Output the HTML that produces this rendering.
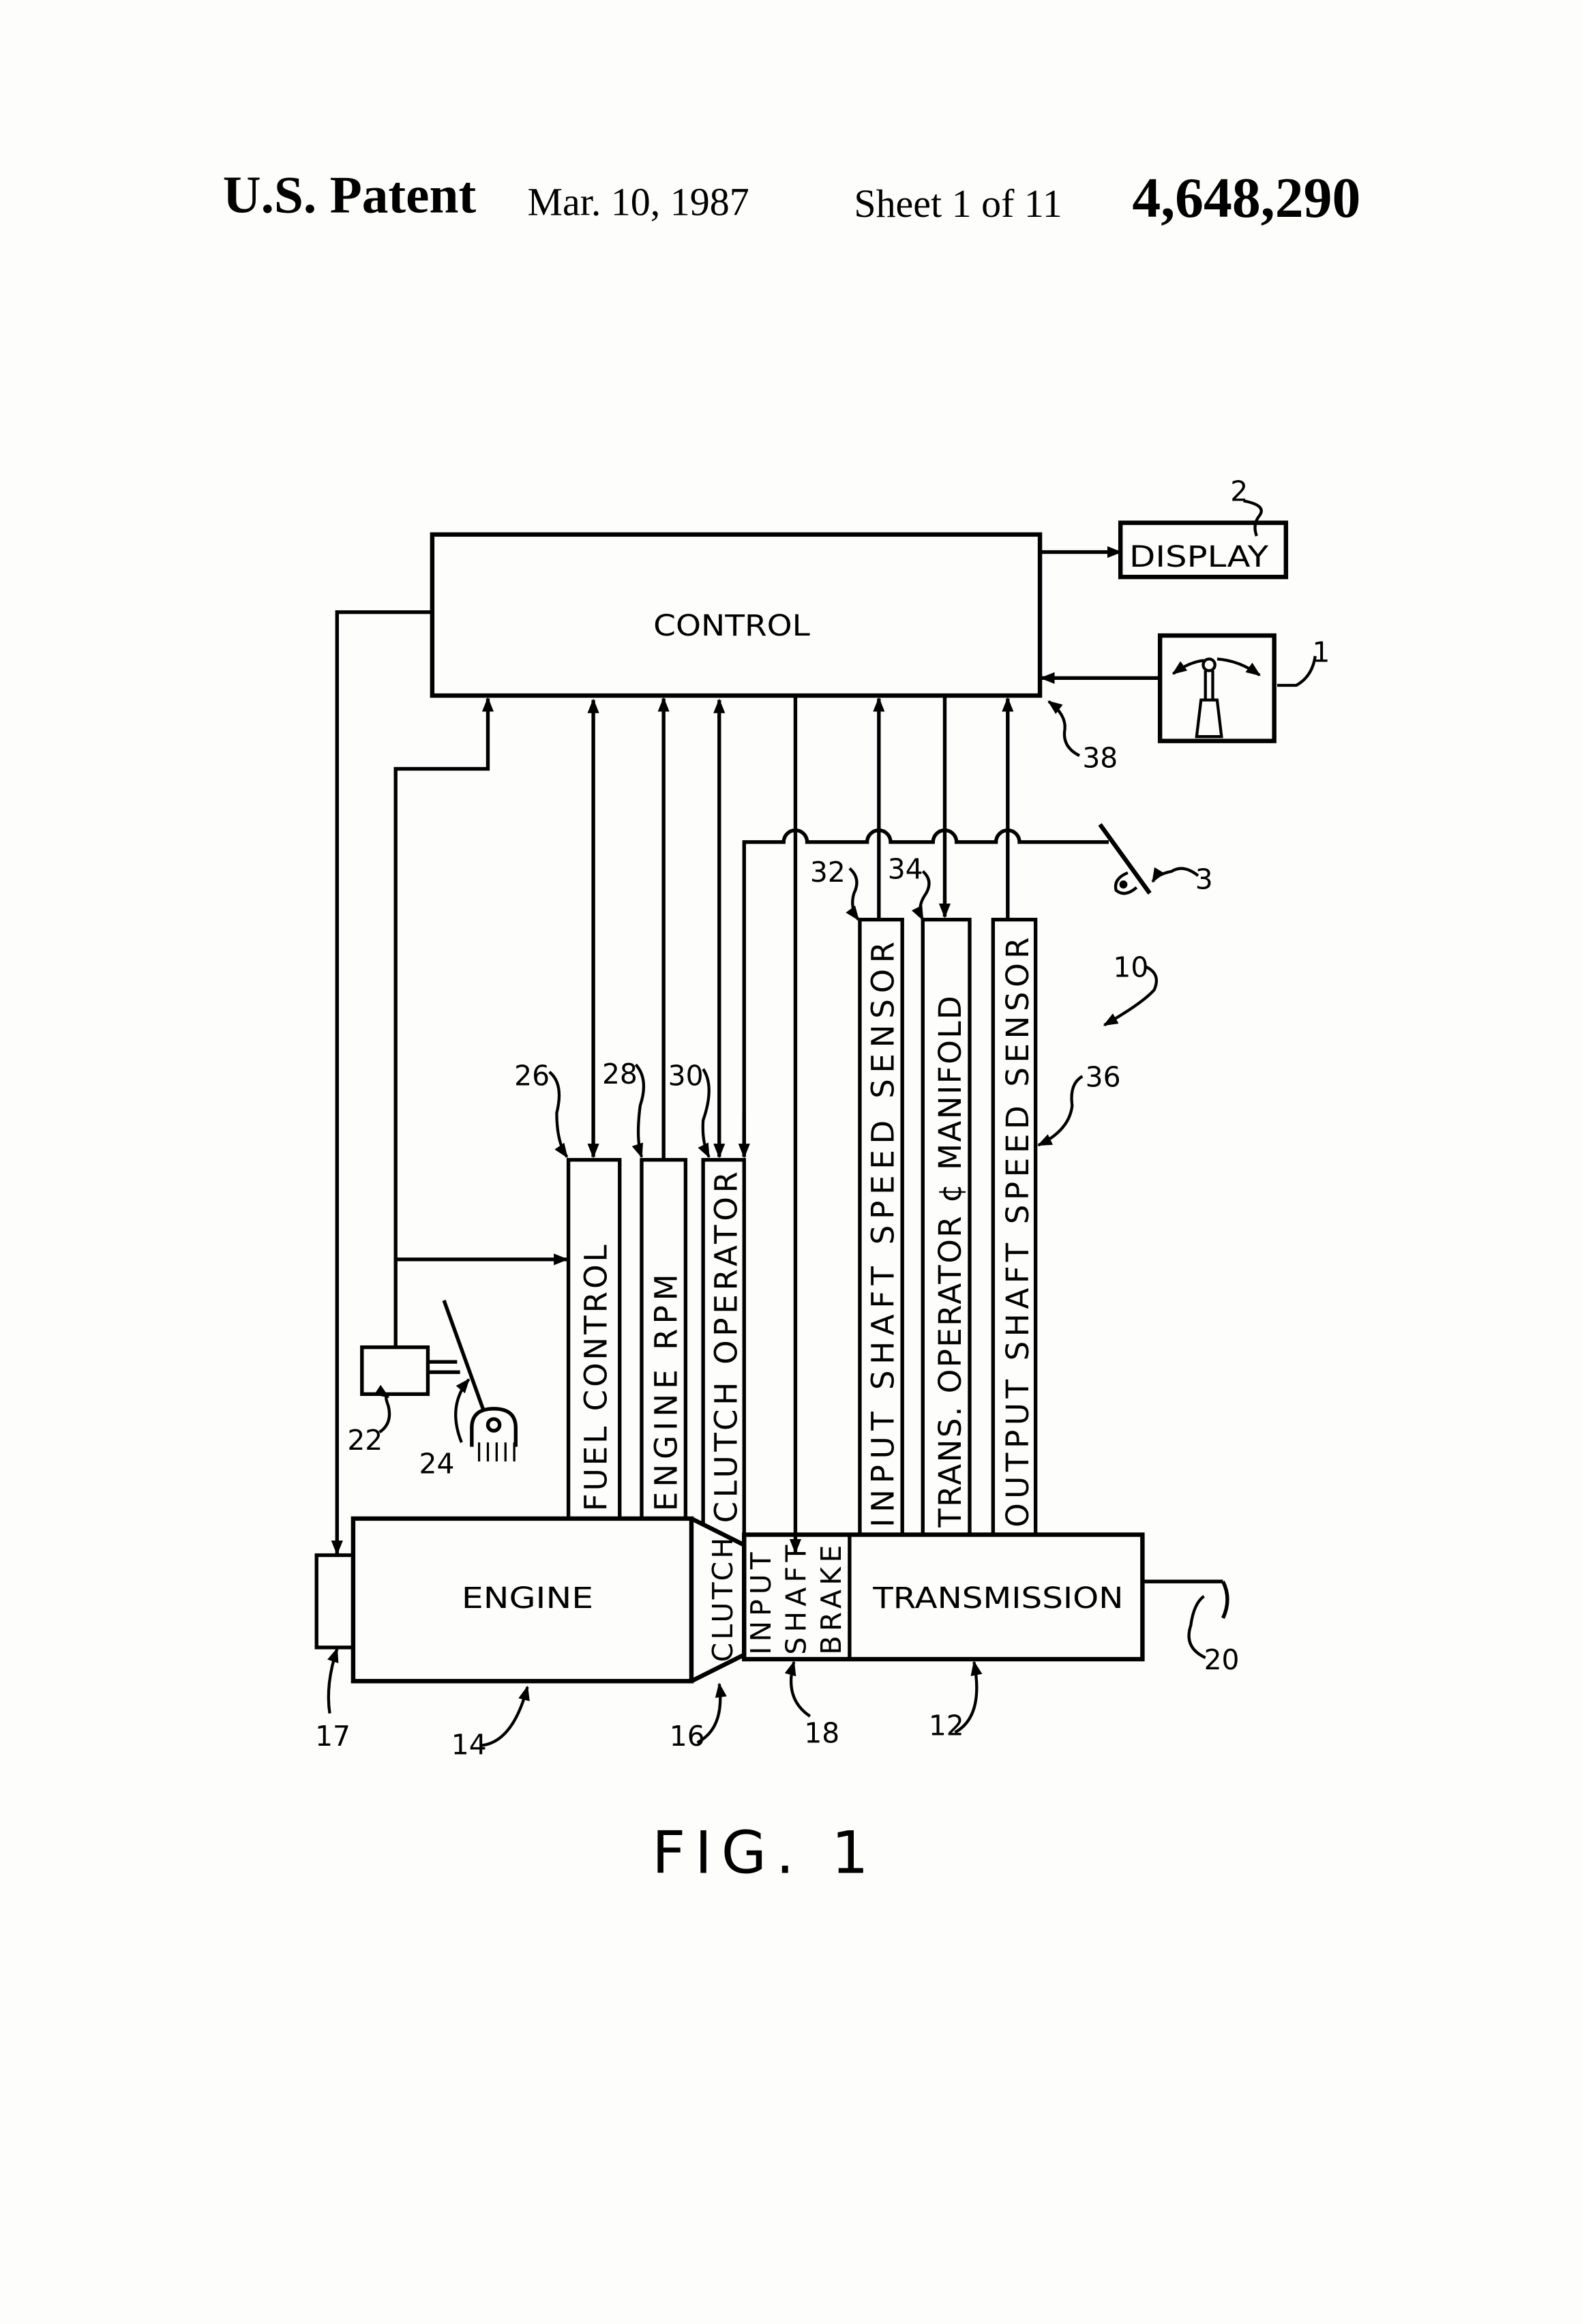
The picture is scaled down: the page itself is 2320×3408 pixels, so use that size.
<!DOCTYPE html>
<html><head><meta charset="utf-8"><style>
html,body{margin:0;padding:0;background:#fdfdfb;}
svg{display:block;}
text{font-family:"DejaVu Sans","Liberation Sans",sans-serif;fill:#000;}
.s{font-family:"Liberation Serif",serif;}
</style></head><body>
<svg width="2320" height="3408" viewBox="0 0 1080 1587" xmlns="http://www.w3.org/2000/svg">
<defs>
<marker id="a" markerWidth="10" markerHeight="10" refX="9" refY="5" orient="auto" markerUnits="userSpaceOnUse"><path d="M0,1 L10,5 L0,9 Z" fill="#000"/></marker>
<marker id="b" markerWidth="10" markerHeight="10" refX="1" refY="5" orient="auto" markerUnits="userSpaceOnUse"><path d="M10,1 L0,5 L10,9 Z" fill="#000"/></marker>
</defs>
<rect width="1080" height="1587" fill="#fdfdfb"/>
<!-- header -->
<text class="s" x="152" y="145" font-size="36" font-weight="bold">U.S. Patent</text>
<text class="s" x="360" y="147" font-size="27">Mar. 10, 1987</text>
<text class="s" x="583" y="148" font-size="27">Sheet 1 of 11</text>
<text class="s" x="773" y="148" font-size="39" font-weight="bold">4,648,290</text>

<g fill="none" stroke="#000" stroke-width="2.5">
<!-- control -->
<rect x="295" y="365" width="415" height="110" stroke-width="3"/>
<rect x="765" y="357" width="113" height="37" stroke-width="3"/>
<line x1="710" y1="377" x2="765" y2="377" marker-end="url(#a)"/>
<rect x="792" y="434" width="78" height="72" stroke-width="3"/>
<line x1="792" y1="463" x2="711" y2="463" marker-end="url(#a)"/>
<!-- shifter icon -->
<path d="M817,503 L820,478 L831,478 L834,503 Z" stroke-width="2"/>
<line x1="823" y1="478" x2="823" y2="458" stroke-width="2"/>
<line x1="828" y1="478" x2="828" y2="458" stroke-width="2"/>
<circle cx="825.5" cy="454" r="4" stroke-width="2"/>
<path d="M801,460 Q812,452 822,451" stroke-width="2" marker-start="url(#b)"/>
<path d="M831,450 Q846,451 860,461" stroke-width="2" marker-end="url(#a)"/>
<!-- left lines -->
<polyline points="295,418 230,418 230,1061" marker-end="url(#a)"/>
<rect x="216" y="1062" width="25" height="63"/>
<polyline points="270,920 270,525 333,525 333,477" marker-end="url(#a)"/>
<line x1="270" y1="860" x2="387" y2="860" marker-end="url(#a)"/>
<!-- verticals -->
<line x1="405" y1="478" x2="405" y2="790" marker-start="url(#b)" marker-end="url(#a)"/>
<line x1="453" y1="792" x2="453" y2="477" marker-end="url(#a)"/>
<line x1="491" y1="478" x2="491" y2="790" marker-start="url(#b)" marker-end="url(#a)"/>
<line x1="543" y1="475" x2="543" y2="1060" marker-end="url(#a)"/>
<line x1="600" y1="628" x2="600" y2="477" marker-end="url(#a)"/>
<line x1="645" y1="475" x2="645" y2="626" marker-end="url(#a)"/>
<line x1="688" y1="628" x2="688" y2="477" marker-end="url(#a)"/>
<!-- line 3 with hops -->
<path d="M508,790 L508,575 L535,575 A8,8 0 0 1 551,575 L592,575 A8,8 0 0 1 608,575 L637,575 A8,8 0 0 1 653,575 L680,575 A8,8 0 0 1 696,575 L757,575" />
<line x1="508" y1="760" x2="508" y2="790" marker-end="url(#a)"/>
<line x1="751" y1="563" x2="785" y2="610" stroke-width="3"/>
<path d="M770,596 Q760,600 762,608 Q768,613 776,606" stroke-width="2"/>
<circle cx="767" cy="604" r="1.5" fill="#000"/>
<!-- boxes -->
<polyline points="388,1037 388,792 423,792 423,1037"/>
<polyline points="438,1037 438,792 468,792 468,1037"/>
<polyline points="480,1042 480,792 508,792 508,1048"/>
<polyline points="587,1048 587,628 616,628 616,1048"/>
<polyline points="630,1048 630,628 662,628 662,1048"/>
<polyline points="678,1048 678,628 707,628 707,1048"/>
<rect x="241" y="1037" width="231" height="111" stroke-width="3"/>
<path d="M472,1037 L508,1055 L508,1130 L472,1148" stroke-width="3"/>
<rect x="508" y="1048" width="272" height="85" stroke-width="3"/>
<line x1="580" y1="1048" x2="580" y2="1133"/>
<polyline points="780,1080 835,1080 M780,1105 835,1105"/>
<path d="M835,1080 Q841,1092 835,1105"/>
<!-- 22, 24 -->
<rect x="247" y="920" width="45" height="32"/>
<line x1="292" y1="930" x2="312" y2="930"/><line x1="292" y1="937" x2="314" y2="937"/>
<line x1="303" y1="888" x2="330" y2="963" stroke-width="2.5"/>
<path d="M322,988 L322,975 Q322,962 337,962 Q352,962 352,975 L352,988"/>
<circle cx="337" cy="973" r="4"/>
<path d="M327,985v13M333,985v13M339,985v13M345,985v13M351,985v13" stroke-width="1.5"/>
<!-- leader lines -->
<path d="M849,342 Q865,345 860,352 Q855,358 858,366" stroke-width="2"/>
<path d="M898,448 Q896,462 885,468 L872,468" stroke-width="2"/>
<path d="M737,516 Q725,510 727,498 Q728,488 716,479" stroke-width="2" marker-end="url(#a)"/>
<path d="M818,598 Q808,590 800,595 Q790,597 787,602" stroke-width="2" marker-end="url(#a)"/>
<path d="M782,660 Q793,665 788,676 Q780,685 754,700" stroke-width="2" marker-end="url(#a)"/>
<path d="M739,735 Q730,740 732,755 Q730,772 709,782" stroke-width="2" marker-end="url(#a)"/>
<path d="M580,593 Q588,600 583,610 Q580,620 586,628" stroke-width="2" marker-end="url(#a)"/>
<path d="M630,595 Q638,602 631,612 Q626,620 630,628" stroke-width="2" marker-end="url(#a)"/>
<path d="M375,732 Q385,740 380,760 Q380,780 387,790" stroke-width="2" marker-end="url(#a)"/>
<path d="M434,727 Q443,737 437,755 Q434,778 438,790" stroke-width="2" marker-end="url(#a)"/>
<path d="M480,730 Q488,742 480,765 Q479,780 484,790" stroke-width="2" marker-end="url(#a)"/>
<path d="M259,978 Q268,972 265,960 Q262,952 265,954" stroke-width="2" marker-end="url(#a)"/>
<path d="M315,985 Q305,960 320,942" stroke-width="2" marker-end="url(#a)"/>
<path d="M225,1170 Q222,1150 230,1126" stroke-width="2" marker-end="url(#a)"/>
<path d="M328,1192 Q350,1190 360,1152" stroke-width="2" marker-end="url(#a)"/>
<path d="M476,1190 Q495,1180 491,1150" stroke-width="2" marker-end="url(#a)"/>
<path d="M553,1172 Q535,1160 542,1135" stroke-width="2" marker-end="url(#a)"/>
<path d="M652,1183 Q672,1172 665,1135" stroke-width="2" marker-end="url(#a)"/>
<path d="M823,1132 Q808,1125 813,1110 Q815,1095 822,1090" stroke-width="2"/>
</g>

<!-- labels -->
<g font-size="20">
<text x="446" y="434" textLength="107" lengthAdjust="spacingAndGlyphs">CONTROL</text>
<text x="771" y="387" textLength="95" lengthAdjust="spacingAndGlyphs">DISPLAY</text>
<text x="315" y="1098" textLength="90" lengthAdjust="spacingAndGlyphs">ENGINE</text>
<text x="596" y="1098" textLength="171" lengthAdjust="spacingAndGlyphs">TRANSMISSION</text>
</g>
<g font-size="21">
<text transform="translate(414,1032) rotate(-90)" textLength="182" lengthAdjust="spacing">FUEL CONTROL</text>
<text transform="translate(462,1032) rotate(-90)" textLength="162" lengthAdjust="spacing">ENGINE RPM</text>
<text transform="translate(503,1040) rotate(-90)" textLength="240" lengthAdjust="spacing">CLUTCH OPERATOR</text>
<text transform="translate(610,1043) rotate(-90)" textLength="400" lengthAdjust="spacing">INPUT SHAFT SPEED SENSOR</text>
<text transform="translate(656,1043) rotate(-90)" textLength="363" lengthAdjust="spacing">TRANS. OPERATOR ¢ MANIFOLD</text>
<text transform="translate(702,1043) rotate(-90)" textLength="403" lengthAdjust="spacing">OUTPUT SHAFT SPEED SENSOR</text>
</g>
<g font-size="19">
<text transform="translate(500,1135) rotate(-90)" textLength="85" lengthAdjust="spacing">CLUTCH</text>
<text transform="translate(526,1130) rotate(-90)" textLength="70" lengthAdjust="spacing">INPUT</text>
<text transform="translate(550,1130) rotate(-90)" textLength="75" lengthAdjust="spacing">SHAFT</text>
<text transform="translate(574,1130) rotate(-90)" textLength="75" lengthAdjust="spacing">BRAKE</text>
</g>
<g font-size="19">
<text x="840" y="342">2</text>
<text x="896" y="452">1</text>
<text x="739" y="524">38</text>
<text x="816" y="607">3</text>
<text x="760" y="667">10</text>
<text x="741" y="742">36</text>
<text x="553" y="602">32</text>
<text x="606" y="600">34</text>
<text x="351" y="741">26</text>
<text x="411" y="740">28</text>
<text x="456" y="741">30</text>
<text x="237" y="990">22</text>
<text x="286" y="1006">24</text>
<text x="215" y="1192">17</text>
<text x="308" y="1198">14</text>
<text x="457" y="1192">16</text>
<text x="549" y="1190">18</text>
<text x="634" y="1185">12</text>
<text x="822" y="1140">20</text>
</g>
<text x="445" y="1279" font-size="40" textLength="148" lengthAdjust="spacing">FIG. 1</text>
</svg>
</body></html>
